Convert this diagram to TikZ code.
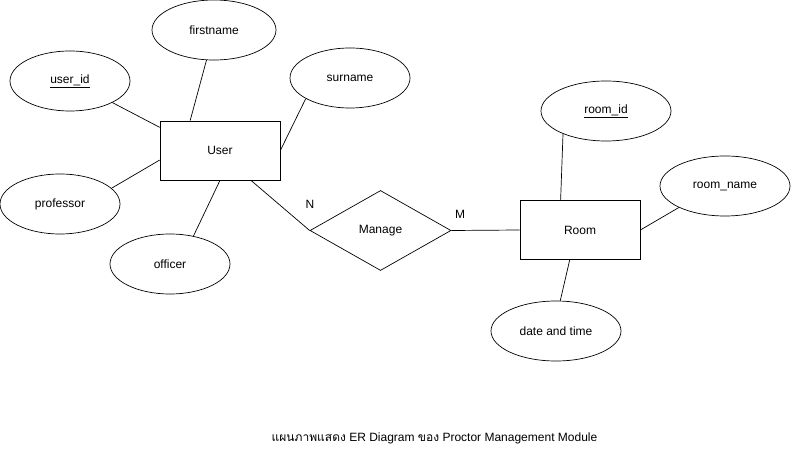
\documentclass[tikz,border=0pt]{standalone}
\usepackage{fontspec}
\setmainfont{Liberation Sans}
\newfontfamily\thaifont[Script=Thai]{Loma}
\usetikzlibrary{shapes.geometric}
\begin{document}
\begin{tikzpicture}[x=1pt,y=-1pt,
  every node/.style={font=\fontsize{12}{14}\selectfont},
  attr/.style={draw,ellipse,line width=0.7pt,minimum width=120pt,minimum height=60pt,inner sep=0pt},
  wattr/.style={attr,minimum width=130pt},
  entity/.style={draw,rectangle,line width=0.7pt,minimum width=120pt,minimum height=59pt,inner sep=0pt},
  relation/.style={draw,diamond,line width=0.7pt,minimum width=141pt,minimum height=80pt,inner sep=0pt,aspect=1.75},
  link/.style={line width=0.7pt}]
\useasboundingbox (0,0) rectangle (792,454);

% entities and relationship
\node[entity] (user) at (220,150.5) {User};
\node[entity] (room) at (580,230) {Room};
\node[relation] (manage) at (380.5,230.5) {Manage};

% attributes of User
\node[attr,minimum width=124pt] (firstname) at (214,30) {firstname};
\node[attr] (userid) at (70,81) {\underline{user\_id}};
\node[attr] (surname) at (350,78) {surname};
\node[attr] (professor) at (60,204) {professor};
\node[attr] (officer) at (170,264) {officer};

% attributes of Room
\node[wattr] (roomid) at (606,111) {\underline{room\_id}};
\node[wattr] (roomname) at (725,186) {room\_name};
\node[wattr] (datetime) at (556,331) {date and time};

% connectors
\draw[link] (userid.-27.6) -- (user.159.4);
\draw[link] (firstname.-104.9) -- (user.135.5);
\draw[link] (surname.205.5) -- (user.0);
\draw[link] (professor.17.7) -- (user.189);
\draw[link] (officer.50) -- (user.south);
\draw[link] (user.-44.5) -- (manage.west);
\draw[link] (manage.east) -- (room.west);
\draw[link] (roomid.208.5) -- (room.123.7);
\draw[link] (roomname.205) -- (room.east);
\draw[link] (datetime.82) -- (room.251.6);

% cardinalities
\node (n) at (310,204) {N};
\node (m) at (460,214) {M};

% caption
\node (caption) at (434.5,438) {{\thaifont แผนภาพแสดง} ER Diagram {\thaifont ของ} Proctor Management Module};
\end{tikzpicture}
\end{document}
